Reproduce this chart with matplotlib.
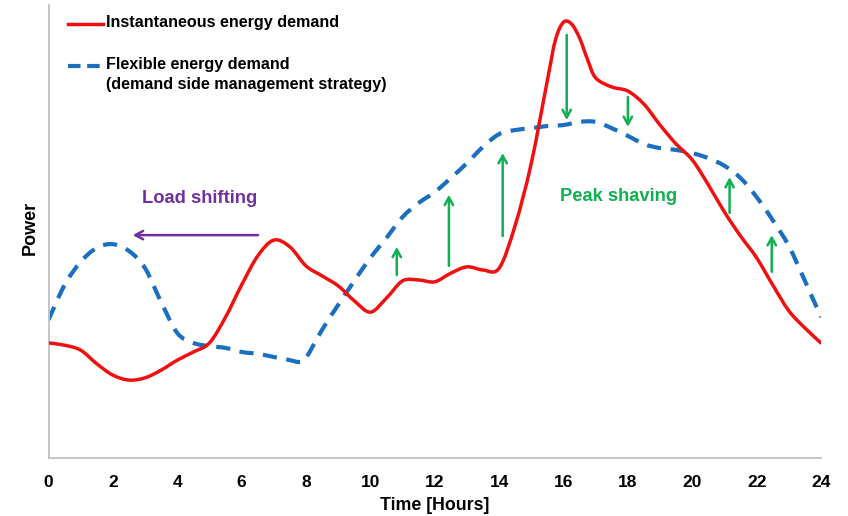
import matplotlib
matplotlib.use("Agg")
import matplotlib.pyplot as plt
import numpy as np
from matplotlib.path import Path
from matplotlib.patches import PathPatch

plt.rcParams['font.family'] = ['Liberation Sans', 'DejaVu Sans']
plt.rcParams['font.weight'] = 'bold'

# Instantaneous energy demand (red)
hours_inst = [0, 0.5, 1.0, 1.5, 2.0, 2.5, 3.0, 3.5, 4.0, 4.5, 5.0, 5.5, 6.0, 6.5,
              7.0, 7.5, 8.0, 8.5, 9.0, 9.5, 10.0, 10.5, 11.0, 11.5, 12.0, 12.5,
              13.0, 13.5, 14.0, 14.5, 15.0, 15.5, 15.75, 16.0, 16.25, 16.5, 16.75,
              17.0, 17.5, 18.0, 18.5, 19.0, 19.5, 20.0, 20.5, 21.0, 21.5, 22.0,
              22.5, 23.0, 23.5, 24.0]
power_inst = [25.4, 24.9, 23.8, 20.8, 18.3, 17.2, 17.7, 19.4, 21.6, 23.4, 25.4, 31.1,
              38.2, 44.6, 48.1, 46.6, 42.4, 40.2, 38.0, 34.7, 32.2, 35.3, 39.1, 39.3,
              38.9, 40.8, 42.2, 41.5, 41.9, 51.4, 65.1, 83.4, 92.3, 96.2, 95.8, 92.7,
              87.9, 83.9, 81.9, 81.0, 78.1, 73.5, 69.3, 65.8, 60.3, 54.3, 49.0, 44.2,
              38.2, 32.5, 28.7, 25.4]

# Flexible energy demand (blue dashed)
hours_flex = [0, 0.5, 1.0, 1.5, 2.0, 2.5, 3.0, 3.5, 4.0, 4.5, 5.0, 5.5, 6.0, 6.5,
              7.0, 7.5, 7.8, 8.0, 8.5, 9.0, 9.5, 10.0, 10.5, 11.0, 11.5, 12.0, 12.5,
              13.0, 13.5, 14.0, 14.5, 15.0, 15.5, 16.0, 16.5, 17.0, 17.5, 18.0, 18.5,
              19.0, 19.5, 20.0, 20.5, 21.0, 21.5, 22.0, 22.5, 23.0, 23.5, 24.0]
power_flex = [30.5, 38.2, 43.3, 46.4, 47.2, 45.7, 41.9, 34.4, 27.6, 25.4, 24.7, 24.3,
              23.4, 23.0, 22.3, 21.6, 21.2, 22.1, 28.3, 33.8, 39.1, 44.2, 48.6, 53.2,
              56.3, 58.7, 61.8, 65.1, 68.7, 71.5, 72.4, 72.8, 73.3, 73.5, 74.2, 74.2,
              72.8, 71.1, 69.3, 68.4, 68.0, 67.3, 66.2, 64.5, 61.8, 57.6, 52.5, 46.8,
              39.1, 31.1]

x_ticks = [0, 2, 4, 6, 8, 10, 12, 14, 16, 18, 20, 22, 24]

# Green shaving/filling arrows: (hour, start, end)
arrow_hours = [16.1, 18.0, 10.82, 12.44, 14.11, 21.16, 22.47]
arrow_start = [93.4, 79.7, 40.4, 42.4, 49.0, 54.1, 41.1]
arrow_end = [74.6, 73.1, 46.6, 58.1, 67.3, 62.0, 49.2]

RED = '#f01010'
BLUE = '#1a6fc0'
GREEN = '#10b050'
PURPLE = '#7030a0'


def smooth_path(xs, ys):
    """Smoothed line through the data points (like a spreadsheet 'smoothed line')."""
    p = np.column_stack([xs, ys]).astype(float)
    n = len(p)
    verts = [p[0]]
    codes = [Path.MOVETO]
    for i in range(n - 1):
        p0 = p[i - 1] if i > 0 else p[i]
        p1 = p[i]
        p2 = p[i + 1]
        p3 = p[i + 2] if i + 2 < n else p[i + 1]
        c1 = p1 + (p2 - p0) / 6.0
        c2 = p2 - (p3 - p1) / 6.0
        verts += [c1, c2, p2]
        codes += [Path.CURVE4] * 3
    return Path(verts, codes)


fig = plt.figure(figsize=(8.48, 5.16), dpi=100)
ax = fig.add_axes([48.5 / 848, 1 - 458 / 516, (821 - 48.5) / 848, (458 - 5) / 516])

ax.add_patch(PathPatch(smooth_path(hours_flex, power_flex), fill=False,
                       edgecolor=BLUE, lw=3.0, linestyle=(0, (3.4, 2.3)),
                       capstyle='butt', zorder=2))
ax.add_patch(PathPatch(smooth_path(hours_inst, power_inst), fill=False,
                       edgecolor=RED, lw=2.5, joinstyle='round',
                       capstyle='round', zorder=3))

for h, s, e in zip(arrow_hours, arrow_start, arrow_end):
    ax.annotate('', xy=(h, e), xytext=(h, s),
                arrowprops=dict(arrowstyle='->,head_length=0.55,head_width=0.3',
                                color=GREEN, lw=1.8, shrinkA=0, shrinkB=0))

ax.annotate('', xy=(2.62, 49.2), xytext=(6.51, 49.2),
            arrowprops=dict(arrowstyle='->,head_length=0.55,head_width=0.3',
                            color=PURPLE, lw=1.8, shrinkA=0, shrinkB=0))
ax.text(4.71, 57.2, 'Load shifting', color=PURPLE, fontsize=13.2,
        fontweight='bold', ha='center', va='center')
ax.text(17.72, 57.8, 'Peak shaving', color=GREEN, fontsize=13.2,
        fontweight='bold', ha='center', va='center')

ax.set_xlim(0, 24)
ax.set_ylim(0, 100)
ax.set_xticks(x_ticks)
ax.set_xticklabels([str(t) for t in x_ticks], fontsize=12.5, fontweight='bold')
ax.set_yticks([])
ax.tick_params(axis='x', length=0, pad=12)
for side in ['top', 'right']:
    ax.spines[side].set_visible(False)
for side in ['left', 'bottom']:
    ax.spines[side].set_color('#c0c0c0')
    ax.spines[side].set_linewidth(1.3)

ax.set_xlabel('Time [Hours]', fontsize=12.8, fontweight='bold', labelpad=5)
fig.text(30 / 848, 1 - 228 / 516, 'Power', rotation=90, fontsize=13,
         fontweight='bold', ha='center', va='center')

# Legend drawn manually
fig.add_artist(plt.Line2D([68 / 848, 103 / 848], [1 - 24 / 516, 1 - 24 / 516],
                          color=RED, lw=2.5))
fig.add_artist(plt.Line2D([68 / 848, 103 / 848], [1 - 66 / 516, 1 - 66 / 516],
                          color=BLUE, lw=3.0, linestyle=(0, (3.0, 1.6))))
fig.text(106 / 848, 1 - 23 / 516, 'Instantaneous energy demand', fontsize=11.6,
         fontweight='bold', va='center', ha='left')
fig.text(106 / 848, 1 - 65 / 516, 'Flexible energy demand', fontsize=11.6,
         fontweight='bold', va='center', ha='left')
fig.text(106 / 848, 1 - 84 / 516, '(demand side management strategy)', fontsize=11.6,
         fontweight='bold', va='center', ha='left')

fig.savefig('out.png', dpi=100)
